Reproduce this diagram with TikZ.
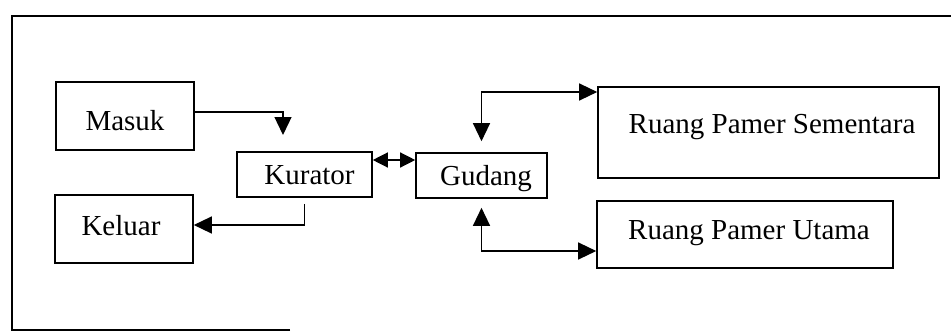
\documentclass[tikz,border=0pt]{standalone}
\usepackage{fontspec}
\setmainfont{Liberation Serif}
\usetikzlibrary{arrows.meta}
\newcommand\tpos[3]{\raisebox{#2}{\makebox[0pt]{\hspace*{#1}#3}}}
\begin{document}
\begin{tikzpicture}[x=1pt,y=-1pt,
  box/.style={draw, line width=1.6pt, rectangle, inner sep=0pt,
    text height=20pt, text depth=6pt, font=\fontsize{29}{34}\selectfont},
  conn/.style={line width=1.3pt},
  tipone/.style={-{Triangle[length=18pt,width=17pt]}},
  tiptwo/.style={{Triangle[length=18pt,width=17pt]}-{Triangle[length=18pt,width=17pt]}},
  tipsmall/.style={{Triangle[length=15pt,width=15pt]}-{Triangle[length=15pt,width=15pt]}},
  frame/.style={line width=1.6pt}]
\useasboundingbox (0,0) rectangle (951,332);

% outer frame (as scanned)
\draw[frame] (290,330) -- (12,330) -- (12,16) -- (951,16);

% boxes
\node[box, minimum width=138pt, minimum height=68pt] (masuk) at (125,116) {\tpos{0pt}{-7pt}{Masuk}};
\node[box, minimum width=138pt, minimum height=68pt] (keluar) at (124,229) {\tpos{-6pt}{1pt}{Keluar}};
\node[box, minimum width=135pt, minimum height=45pt] (kurator) at (304.5,174.5) {\tpos{10pt}{-2.5pt}{Kurator}};
\node[box, minimum width=131pt, minimum height=45pt] (gudang) at (481.5,175.5) {\tpos{9pt}{-2.5pt}{Gudang}};
\node[box, minimum width=341pt, minimum height=91pt] (rps) at (768.5,132.5) {\tpos{7pt}{6.5pt}{Ruang Pamer Sementara}};
\node[box, minimum width=296pt, minimum height=67pt] (rpu) at (745,234.5) {\tpos{8pt}{2.5pt}{Ruang Pamer Utama}};

% connector ends in the air
\coordinate (m1) at (283,135);

% connectors
\draw[conn, tipone] ([yshift=4pt]masuk.east) -| (m1);
\draw[conn, tipsmall] ([yshift=14.5pt]kurator.east) -- ([yshift=14.5pt]kurator.east -| gudang.west);
\draw[conn, tipone] ([yshift=-6pt]kurator.south) |- ([yshift=4pt]keluar.east);
\draw[conn, tiptwo] ([yshift=11pt]gudang.north) |- ([yshift=40.5pt]rps.west);
\draw[conn, tiptwo] ([yshift=-9pt]gudang.south) |- ([yshift=-16.5pt]rpu.west);
\end{tikzpicture}
\end{document}
